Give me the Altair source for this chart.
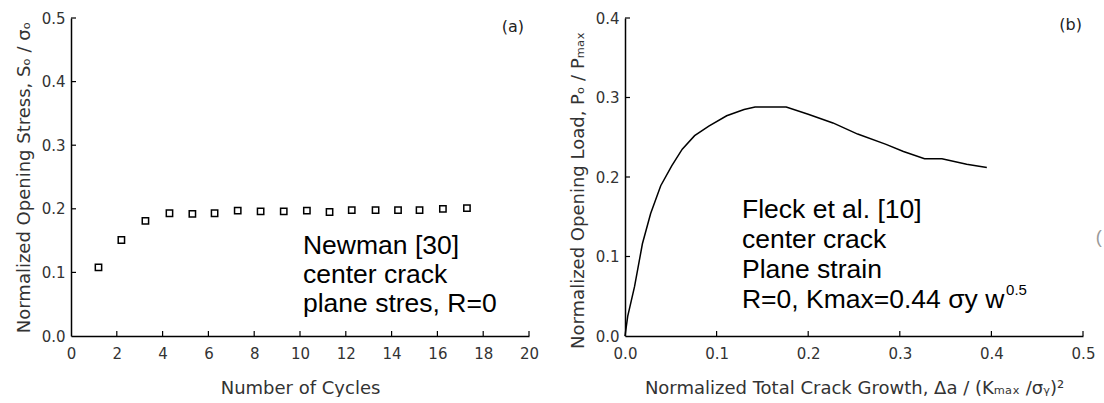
import altair as alt
import pandas as pd

# ---------- data ----------
cycles = [1.2, 2.2, 3.25, 4.3, 5.3, 6.27, 7.28, 8.28, 9.29, 10.3, 11.29, 12.26, 13.3, 14.28, 15.22, 16.24, 17.29]
stress = [0.108, 0.151, 0.181, 0.193, 0.192, 0.193, 0.197, 0.196, 0.196, 0.197, 0.195, 0.198, 0.198, 0.198, 0.198, 0.200, 0.201]

growth = [0.0, 0.003, 0.0104, 0.019, 0.028, 0.039, 0.051, 0.0625, 0.076, 0.0915, 0.111, 0.130, 0.142,
          0.176, 0.200, 0.227, 0.254, 0.285, 0.304, 0.327, 0.346, 0.373, 0.395]
load = [0.0, 0.025, 0.062, 0.116, 0.154, 0.189, 0.214, 0.235, 0.252, 0.264, 0.277, 0.285, 0.288,
        0.288, 0.279, 0.268, 0.254, 0.241, 0.232, 0.223, 0.223, 0.216, 0.212]

a_xticks = [0, 2, 4, 6, 8, 10, 12, 14, 16, 18, 20]
a_yticks = [0.0, 0.1, 0.2, 0.3, 0.4, 0.5]
b_xticks = [0.0, 0.1, 0.2, 0.3, 0.4, 0.5]
b_yticks = [0.0, 0.1, 0.2, 0.3, 0.4]

a_text = ["Newman [30]", "center crack", "plane stres, R=0"]
b_text = ["Fleck et al. [10]", "center crack", "Plane strain", "R=0, Kmax=0.44 \u03c3y w"]

W, H = 458, 318
FONT = "DejaVu Sans"
TXT = "Liberation Sans"

df_a = pd.DataFrame({"cycles": cycles, "stress": stress})
df_b = pd.DataFrame({"growth": growth, "load": load})
one = pd.DataFrame({"k": [0]})


def inward_ticks(xvals, yvals, xscale, yscale, xaxis, yaxis):
    xt = alt.Chart(pd.DataFrame({"t": xvals[1:]})).mark_rule(color="black", strokeWidth=1.2).encode(
        x=alt.X("t:Q", scale=xscale, axis=xaxis),
        y=alt.value(H), y2=alt.value(H - 5))
    yt = alt.Chart(pd.DataFrame({"t": yvals[1:]})).mark_rule(color="black", strokeWidth=1.2).encode(
        y=alt.Y("t:Q", scale=yscale, axis=yaxis),
        x=alt.value(0), x2=alt.value(5))
    return xt, yt


# ---------- panel (a) ----------
xs_a = alt.Scale(domain=[0, 20], nice=False)
ys_a = alt.Scale(domain=[0, 0.5], nice=False)
xax_a = alt.Axis(values=a_xticks, format="d", title="Number of Cycles")
yax_a = alt.Axis(values=a_yticks, format=".1f", title="Normalized Opening Stress, S\u2092 / \u03c3\u2092")

pts = alt.Chart(df_a).mark_point(shape="square", filled=False, color="black", size=40, strokeWidth=1.5, opacity=1).encode(
    x=alt.X("cycles:Q", scale=xs_a, axis=xax_a),
    y=alt.Y("stress:Q", scale=ys_a, axis=yax_a),
)
xt_a, yt_a = inward_ticks(a_xticks, a_yticks, xs_a, ys_a, xax_a, yax_a)
txt_a = alt.Chart(one).mark_text(text=a_text, align="left", baseline="alphabetic", font=TXT,
                                 fontSize=26.5, lineHeight=29, color="black").encode(
    x=alt.datum(10.13), y=alt.datum(0.129))
lab_a = alt.Chart(one).mark_text(text="(a)", align="right", baseline="middle", font=FONT,
                                 fontSize=16, color="#222").encode(
    x=alt.datum(19.78), y=alt.datum(0.486))
panel_a = alt.layer(pts, xt_a, yt_a, txt_a, lab_a).properties(width=W, height=H)

# ---------- panel (b) ----------
xs_b = alt.Scale(domain=[0, 0.5], nice=False)
ys_b = alt.Scale(domain=[0, 0.4], nice=False)
xax_b = alt.Axis(values=b_xticks, format=".1f",
                 title="Normalized Total Crack Growth, \u0394a / (K\u2098\u2090\u2093 /\u03c3\u1d67)\u00b2")
yax_b = alt.Axis(values=b_yticks, format=".1f", title="Normalized Opening Load, P\u2092 / P\u2098\u2090\u2093",
                 titleY=172)

line = alt.Chart(df_b).mark_line(color="black", strokeWidth=1.5).encode(
    x=alt.X("growth:Q", scale=xs_b, axis=xax_b),
    y=alt.Y("load:Q", scale=ys_b, axis=yax_b),
)
xt_b, yt_b = inward_ticks(b_xticks, b_yticks, xs_b, ys_b, xax_b, yax_b)
txt_b = alt.Chart(one).mark_text(text=b_text, align="left", baseline="alphabetic", font=TXT,
                                 fontSize=26.5, lineHeight=30, color="black").encode(
    x=alt.datum(0.1277), y=alt.datum(0.1484))
sup_b = alt.Chart(one).mark_text(text="0.5", align="left", baseline="alphabetic", font=TXT,
                                 fontSize=15, color="black").encode(
    x=alt.datum(0.416), y=alt.datum(0.0516))
lab_b = alt.Chart(one).mark_text(text="(b)", align="right", baseline="middle", font=FONT,
                                 fontSize=16, color="#222").encode(
    x=alt.datum(0.4989), y=alt.datum(0.391))
stray = alt.Chart(one).mark_text(text="(", align="left", baseline="middle", font=TXT,
                                 fontSize=18, color="#999", clip=False).encode(
    x=alt.datum(0.514), y=alt.datum(0.123))
panel_b = alt.layer(line, xt_b, yt_b, txt_b, sup_b, lab_b, stray).properties(width=W, height=H)

chart = alt.hconcat(panel_a, panel_b, spacing=96, bounds="flush").properties(
    padding={"left": 15, "top": 11, "right": 0, "bottom": 0},
    background="white",
).configure_view(stroke=None).configure_axis(
    grid=False,
    ticks=False,
    labelFlush=False,
    domainColor="black",
    domainWidth=1.5,
    labelFont=FONT,
    labelFontSize=15,
    labelColor="#333",
    labelPadding=6,
    titleFont=FONT,
    titleFontSize=18,
    titleFontWeight="normal",
    titleColor="#333",
    titlePadding=8,
).configure_axisX(labelPadding=10, titlePadding=18)

chart.save("out.html", embed_options={"renderer": "svg", "actions": False})
